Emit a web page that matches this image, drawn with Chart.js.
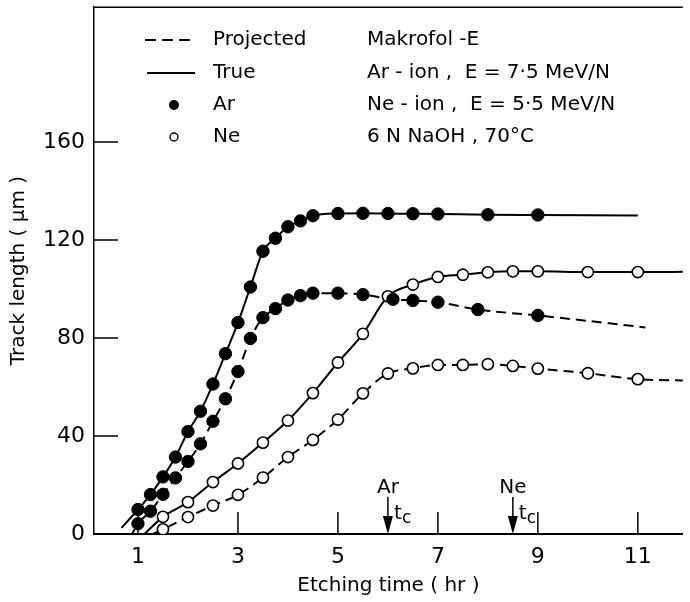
<!DOCTYPE html>
<html><head><meta charset="utf-8">
<script src="https://cdn.jsdelivr.net/npm/chart.js@4.4.1/dist/chart.umd.min.js"></script>
<style>html,body{margin:0;padding:0;background:#fff}</style>
</head><body>
<canvas id="c" width="690" height="602"></canvas>
<script>
// ---- data ----
const arTrueTime = [1,1.25,1.5,1.75,2,2.25,2.5,2.75,3,3.25,3.5,3.75,4,4.25,4.5,5,5.5,6,6.5,7,8,9];
const arTrueLen  = [10.0,16.1,23.3,31.4,41.8,50.1,61.2,73.6,86.3,100.8,115.4,120.7,125.4,127.8,129.9,130.8,130.9,130.8,130.7,130.6,130.3,130.2];
const arTrueLineStart = [0.67, 2.5];
const arTrueLineEnd   = [11.0, 130.0];

const arProjTime = [1,1.25,1.5,1.75,2,2.25,2.5,2.75,3,3.25,3.5,3.75,4,4.25,4.5,5,5.5,6.1,6.5,7,7.8,9];
const arProjLen  = [4.2,9.3,16.2,22.9,29.6,36.8,46.0,55.2,66.3,79.8,88.3,92.0,95.5,97.3,98.3,98.3,97.7,95.8,95.3,94.6,91.6,89.2];
const arProjLineStart = [0.88, 0];
const arProjLineEnd   = [11.15, 84.3];

const neTime     = [1.5,2,2.5,3,3.5,4,4.5,5,5.5,6,6.5,7,7.5,8,8.5,9,10,11];
const neTrueLen  = [7.0,13.0,21.2,28.8,37.3,46.3,57.5,70.0,81.7,97.0,101.8,104.9,105.8,106.8,107.2,107.2,106.9,106.9];
const neTrueLineStart = [1.13, 0];
const neTrueLineEnd   = [12.0, 107.0];

const neProjLen  = [1.9,6.9,11.6,16.0,23.0,31.4,38.4,46.7,57.4,65.5,67.6,69.0,69.0,69.3,68.6,67.5,65.6,63.2];
const neProjLineStart = [1.3, 0];
const neProjLineEnd   = [12.0, 62.6];

const criticalTimes = [{ion:'Ar', t:6}, {ion:'Ne', t:8.5}];

const xTickValues = [1,3,5,7,9,11];
const yTickValues = [0,40,80,120,160];
const xMin = 0.12, xMax = 11.9, yMin = 0, yMax = 215;

const legendItems = ['Projected','True','Ar','Ne'];
const infoLines = ['Makrofol -E','Ar - ion ,  E = 7·5 MeV/N','Ne - ion ,  E = 5·5 MeV/N','6 N NaOH , 70°C'];

// ---- chart ----
const FONT = "'DejaVu Sans', sans-serif";
const pts = (xs, ys) => xs.map((x, i) => ({x, y: ys[i]}));
const lineDs = (xs, ys, s, e, dashed) => ({
  type: 'line',
  data: [{x: s[0], y: s[1]}, ...pts(xs, ys), {x: e[0], y: e[1]}],
  borderColor: '#000', borderWidth: 2, borderDash: dashed ? [10, 6] : [],
  pointRadius: 0, cubicInterpolationMode: 'monotone', fill: false, order: 2
});
const markDs = (xs, ys, filled) => ({
  type: 'scatter', data: pts(xs, ys), showLine: false,
  pointRadius: filled ? 6.2 : 5.6,
  pointBackgroundColor: filled ? '#000' : '#fff',
  pointBorderColor: '#000', pointBorderWidth: filled ? 1 : 1.6,
  order: 1
});

const deco = {
  id: 'deco',
  afterDraw(chart) {
    const {ctx, chartArea: ca, scales: {x, y}} = chart;
    ctx.save();
    ctx.strokeStyle = '#000';
    ctx.fillStyle = '#000';
    ctx.lineWidth = 1.5;
    ctx.setLineDash([]);
    ctx.beginPath();
    ctx.moveTo(ca.left, ca.top); ctx.lineTo(ca.right, ca.top);
    yTickValues.filter(v => v > 0).forEach(v => {
      const py = y.getPixelForValue(v);
      ctx.moveTo(ca.left, py); ctx.lineTo(ca.left + 24, py);
    });
    xTickValues.forEach(v => {
      const px = x.getPixelForValue(v);
      ctx.moveTo(px, ca.bottom); ctx.lineTo(px, ca.bottom - 22);
    });
    ctx.stroke();

    // critical time arrows
    criticalTimes.forEach(c => {
      const px = x.getPixelForValue(c.t);
      const by = ca.bottom;
      ctx.lineWidth = 1.5;
      ctx.beginPath(); ctx.moveTo(px, by - 37); ctx.lineTo(px, by - 16); ctx.stroke();
      ctx.beginPath(); ctx.moveTo(px - 5, by - 18); ctx.lineTo(px + 5, by - 18); ctx.lineTo(px, by); ctx.closePath(); ctx.fill();
      ctx.textAlign = 'center'; ctx.textBaseline = 'alphabetic';
      ctx.font = '20px ' + FONT;
      ctx.fillText(c.ion, px, by - 41);
      ctx.textAlign = 'left';
      ctx.fillText('t', px + 6, by - 15);
      ctx.font = '17px ' + FONT;
      ctx.fillText('c', px + 14, by - 11);
    });

    // legend
    const lx = ca.left + 51, tx = ca.left + 119;
    const rows = [40, 73, 105, 137];
    ctx.font = '20px ' + FONT;
    ctx.textAlign = 'left'; ctx.textBaseline = 'middle';
    ctx.lineWidth = 2;
    ctx.beginPath(); ctx.setLineDash([11, 6]);
    ctx.moveTo(lx, rows[0]); ctx.lineTo(lx + 50, rows[0]); ctx.stroke();
    ctx.setLineDash([]);
    ctx.beginPath(); ctx.moveTo(lx + 2, rows[1]); ctx.lineTo(lx + 50, rows[1]); ctx.stroke();
    ctx.beginPath(); ctx.arc(lx + 29, rows[2], 5, 0, Math.PI * 2); ctx.fill();
    ctx.lineWidth = 1.4;
    ctx.beginPath(); ctx.arc(lx + 29, rows[3], 4, 0, Math.PI * 2); ctx.stroke();
    legendItems.forEach((t, i) => ctx.fillText(t, tx, rows[i]));
    infoLines.forEach((t, i) => ctx.fillText(t, ca.left + 273, rows[i]));
    ctx.restore();
  }
};

new Chart(document.getElementById('c'), {
  data: {
    datasets: [
      markDs(arTrueTime, arTrueLen, true),
      markDs(arProjTime, arProjLen, true),
      markDs(neTime, neTrueLen, false),
      markDs(neTime, neProjLen, false),
      lineDs(arTrueTime, arTrueLen, arTrueLineStart, arTrueLineEnd, false),
      lineDs(arProjTime, arProjLen, arProjLineStart, arProjLineEnd, true),
      lineDs(neTime, neTrueLen, neTrueLineStart, neTrueLineEnd, false),
      lineDs(neTime, neProjLen, neProjLineStart, neProjLineEnd, true)
    ]
  },
  options: {
    responsive: false, animation: false,
    layout: {padding: {top: 5, right: 0, left: 0, bottom: 0}},
    plugins: {legend: {display: false}, tooltip: {enabled: false}},
    scales: {
      x: {
        type: 'linear', min: xMin, max: xMax,
        afterBuildTicks: s => { s.ticks = xTickValues.map(v => ({value: v})); },
        afterFit: s => { s.height = 68; s.paddingLeft = 0; s.paddingRight = 0; },
        ticks: {font: {family: FONT, size: 22}, color: '#000', padding: 10, maxRotation: 0, autoSkip: false},
        grid: {display: false, drawTicks: false},
        border: {display: true, color: '#000', width: 2},
        title: {display: true, text: 'Etching time ( hr )', color: '#000', font: {family: FONT, size: 20}, padding: {top: 0, bottom: 4}}
      },
      y: {
        type: 'linear', min: yMin, max: yMax,
        afterBuildTicks: s => { s.ticks = yTickValues.map(v => ({value: v})); },
        afterFit: s => { s.width = 94; s.paddingTop = 0; s.paddingBottom = 0; },
        ticks: {font: {family: FONT, size: 22}, color: '#000', padding: 9},
        grid: {display: false, drawTicks: false},
        border: {display: true, color: '#000', width: 1.5},
        title: {display: true, text: 'Track length ( μm )', color: '#000', font: {family: FONT, size: 20}, padding: {top: 7, bottom: 0}}
      }
    }
  },
  plugins: [deco]
});
</script>
</body></html>
